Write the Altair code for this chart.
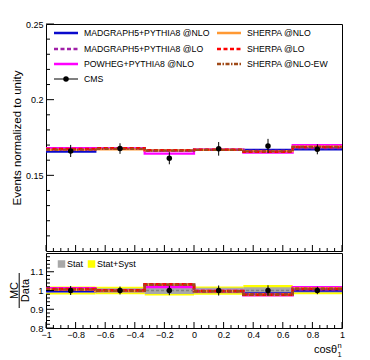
import altair as alt
import pandas as pd

# ---------------- data ----------------
bin_lo = [-1.0, -0.6667, -0.3333, 0.0, 0.3333, 0.6667]
bin_hi = [-0.6667, -0.3333, 0.0, 0.3333, 0.6667, 1.0]
bin_center = [-0.8333, -0.5, -0.1667, 0.1667, 0.5, 0.8333]

cms_val = [0.1661, 0.1677, 0.1613, 0.1675, 0.1694, 0.1672]
cms_err = [0.0040, 0.0035, 0.0040, 0.0045, 0.0047, 0.0033]

mg5_nlo = [0.1657, 0.1675, 0.1664, 0.1668, 0.1668, 0.1672]
mg5_lo = [0.1670, 0.1678, 0.1662, 0.1668, 0.1662, 0.1680]
powheg_nlo = [0.1680, 0.1678, 0.1644, 0.1670, 0.1650, 0.1700]
sherpa_nlo = [0.1668, 0.1672, 0.1665, 0.1668, 0.1660, 0.1690]
sherpa_lo = [0.1675, 0.1680, 0.1667, 0.1670, 0.1655, 0.1686]
sherpa_nlo_ew = [0.1670, 0.1675, 0.1663, 0.1668, 0.1658, 0.1688]

stat_unc = [0.013, 0.012, 0.018, 0.015, 0.018, 0.011]
tot_unc = [0.021, 0.020, 0.027, 0.022, 0.030, 0.020]

series_names = ["MADGRAPH5+PYTHIA8 @NLO", "MADGRAPH5+PYTHIA8 @LO",
                "POWHEG+PYTHIA8 @NLO", "SHERPA @NLO", "SHERPA @LO",
                "SHERPA @NLO-EW"]
series_vals = [mg5_nlo, mg5_lo, powheg_nlo, sherpa_nlo, sherpa_lo, sherpa_nlo_ew]

y_major = [0.15, 0.2, 0.25]
y_minor = [0.11, 0.12, 0.13, 0.14, 0.16, 0.17, 0.18, 0.19, 0.21, 0.22, 0.23, 0.24]
r_major = [0.8, 0.9, 1.0, 1.1]
r_minor = [0.82, 0.84, 0.86, 0.88, 0.92, 0.94, 0.96, 0.98, 1.02, 1.04, 1.06,
           1.08, 1.12, 1.14, 1.16, 1.18]
x_major = [-1.0, -0.8, -0.6, -0.4, -0.2, 0.0, 0.2, 0.4, 0.6, 0.8, 1.0]
x_minor = [-0.95, -0.9, -0.85, -0.75, -0.7, -0.65, -0.55, -0.5, -0.45, -0.35,
           -0.3, -0.25, -0.15, -0.1, -0.05, 0.05, 0.1, 0.15, 0.25, 0.3, 0.35,
           0.45, 0.5, 0.55, 0.65, 0.7, 0.75, 0.85, 0.9, 0.95]

# ---------------- styles ----------------
styles = {
    "MADGRAPH5+PYTHIA8 @NLO": dict(color="#0a0acc", dash=[1, 0]),
    "MADGRAPH5+PYTHIA8 @LO": dict(color="#a020a8", dash=[4, 2.5]),
    "POWHEG+PYTHIA8 @NLO": dict(color="#ff00ff", dash=[1, 0]),
    "SHERPA @NLO": dict(color="#ff9933", dash=[1, 0]),
    "SHERPA @LO": dict(color="#ff0000", dash=[4, 2.5]),
    "SHERPA @NLO-EW": dict(color="#a04a18", dash=[4, 1.5, 1.5, 1.5]),
}
draw_order = ["MADGRAPH5+PYTHIA8 @NLO", "POWHEG+PYTHIA8 @NLO", "SHERPA @NLO",
              "MADGRAPH5+PYTHIA8 @LO", "SHERPA @LO", "SHERPA @NLO-EW"]

W, H_TOP, H_RAT = 296, 227, 75
FONT = "Liberation Sans"

xs = alt.Scale(domain=[-1, 1], nice=False, zero=False)
ys_top = alt.Scale(domain=[0.1, 0.25], nice=False, zero=False)
ys_rat = alt.Scale(domain=[0.8, 1.2], nice=False, zero=False)

ax_top_y = alt.Axis(values=y_major, format="~g", title="Events normalized to unity",
                    ticks=False, domain=False, grid=False, labelPadding=3,
                    labelOverlap=False, labelFlush=False,
                    labelFontSize=9, titleFontSize=11.5, titleFontWeight="normal",
                    titleAngle=270, titleX=-26, titleY=H_TOP / 2,
                    titleBaseline="alphabetic", titleAlign="center")
ax_rat_x = alt.Axis(values=x_major, format="~g", ticks=False, domain=False, grid=False,
                    labelOverlap=False, labelFlush=False, labelBound=False,
                    labelFontSize=9, labelPadding=2, title=None)
ax_rat_y = alt.Axis(values=r_major, format="~g", ticks=False, domain=False, grid=False,
                    labelOverlap=False, labelFlush=False, labelBound=False,
                    labelFontSize=9.5, labelPadding=3, title=None)


def X_top(f):
    return alt.X(f, type="quantitative", scale=xs, axis=None)


def Y_top(f):
    return alt.Y(f, type="quantitative", scale=ys_top, axis=ax_top_y)


def X_rat(f):
    return alt.X(f, type="quantitative", scale=xs, axis=ax_rat_x)


def Y_rat(f):
    return alt.Y(f, type="quantitative", scale=ys_rat, axis=ax_rat_y)


def step_frame(vals):
    return pd.DataFrame({"x": bin_lo + [bin_hi[-1]], "y": list(vals) + [vals[-1]]})


cms = pd.DataFrame({"x": bin_center, "y": cms_val,
                    "lo": [v - e for v, e in zip(cms_val, cms_err)],
                    "hi": [v + e for v, e in zip(cms_val, cms_err)]})
cms_r = pd.DataFrame({"x": bin_center, "y": [1.0] * 6,
                      "lo": [1 - e / v for v, e in zip(cms_val, cms_err)],
                      "hi": [1 + e / v for v, e in zip(cms_val, cms_err)]})
bands = pd.DataFrame({"x": bin_lo, "x2": bin_hi,
                      "slo": [1 - s for s in stat_unc], "shi": [1 + s for s in stat_unc],
                      "tlo": [1 - s for s in tot_unc], "thi": [1 + s for s in tot_unc]})

# ---------------- top panel ----------------
top_layers = []
for name in draw_order:
    st = styles[name]
    vals = series_vals[series_names.index(name)]
    top_layers.append(
        alt.Chart(step_frame(vals)).mark_line(interpolate="step-after", color=st["color"],
                                              strokeDash=st["dash"], strokeWidth=2.2)
        .encode(x=X_top("x"), y=Y_top("y"))
    )

top_layers.append(alt.Chart(cms).mark_rule(color="black", strokeWidth=1).encode(
    x=X_top("x"), y=Y_top("lo"), y2="hi:Q"))
top_layers.append(alt.Chart(cms).mark_circle(color="black", opacity=1, size=30).encode(
    x=X_top("x"), y=Y_top("y")))

# inside ticks
top_layers.append(alt.Chart(pd.DataFrame({"v": y_major})).mark_rule(color="black").encode(
    y=Y_top("v"), x=alt.value(0), x2=alt.value(8)))
top_layers.append(alt.Chart(pd.DataFrame({"v": y_minor})).mark_rule(color="black").encode(
    y=Y_top("v"), x=alt.value(0), x2=alt.value(4)))
top_layers.append(alt.Chart(pd.DataFrame({"v": x_major})).mark_rule(color="black").encode(
    x=X_top("v"), y=alt.value(H_TOP), y2=alt.value(H_TOP - 6)))
top_layers.append(alt.Chart(pd.DataFrame({"v": x_minor})).mark_rule(color="black").encode(
    x=X_top("v"), y=alt.value(H_TOP), y2=alt.value(H_TOP - 3)))

# legend (top panel)
legend_layout = [
    ("MADGRAPH5+PYTHIA8 @NLO", 8, 9), ("SHERPA @NLO", 171, 9),
    ("MADGRAPH5+PYTHIA8 @LO", 8, 25), ("SHERPA @LO", 171, 25),
    ("POWHEG+PYTHIA8 @NLO", 8, 40), ("SHERPA @NLO-EW", 171, 40),
]
one = pd.DataFrame({"a": [0]})
for name, lx, ly in legend_layout:
    st = styles[name]
    top_layers.append(alt.Chart(one).mark_rule(color=st["color"], strokeDash=st["dash"],
                                               strokeWidth=2.5).encode(
        x=alt.value(lx), x2=alt.value(lx + 24), y=alt.value(ly)))
top_layers.append(alt.Chart(one).mark_rule(color="black", strokeWidth=1).encode(
    x=alt.value(8), x2=alt.value(32), y=alt.value(55)))
top_layers.append(alt.Chart(one).mark_circle(color="black", opacity=1, size=30).encode(
    x=alt.value(20), y=alt.value(55)))
leg_text = pd.DataFrame({
    "t": [n for n, _, _ in legend_layout] + ["CMS"],
    "px": [lx + 30 for _, lx, _ in legend_layout] + [38],
    "py": [ly for _, _, ly in legend_layout] + [55],
})
top_layers.append(alt.Chart(leg_text).mark_text(align="left", baseline="middle", fontSize=8.7,
                                                font=FONT, color="black").encode(
    x=alt.X("px:Q", scale=None), y=alt.Y("py:Q", scale=None), text="t:N"))

top = alt.layer(*top_layers).properties(width=W, height=H_TOP)

# ---------------- ratio panel ----------------
rat_layers = []
rat_layers.append(alt.Chart(bands).mark_rect(color="#ffff00").encode(
    x=X_rat("x"), x2="x2:Q", y=Y_rat("tlo"), y2="thi:Q"))
rat_layers.append(alt.Chart(bands).mark_rect(color="#a8a8a8").encode(
    x=X_rat("x"), x2="x2:Q", y=Y_rat("slo"), y2="shi:Q"))
rat_layers.append(alt.Chart(pd.DataFrame({"v": [1.0]})).mark_rule(
    color="#808080", strokeDash=[3, 2], strokeWidth=1.5).encode(
    y=Y_rat("v"), x=alt.value(0), x2=alt.value(W)))
for name in draw_order:
    st = styles[name]
    vals = series_vals[series_names.index(name)]
    ratio = [m / d for m, d in zip(vals, cms_val)]
    rat_layers.append(
        alt.Chart(step_frame(ratio)).mark_line(interpolate="step-after", color=st["color"],
                                               strokeDash=st["dash"], strokeWidth=2.5)
        .encode(x=X_rat("x"), y=Y_rat("y"))
    )
rat_layers.append(alt.Chart(cms_r).mark_rule(color="black", strokeWidth=1).encode(
    x=X_rat("x"), y=Y_rat("lo"), y2="hi:Q"))
rat_layers.append(alt.Chart(cms_r).mark_circle(color="black", opacity=1, size=30).encode(
    x=X_rat("x"), y=Y_rat("y")))

rat_layers.append(alt.Chart(pd.DataFrame({"v": r_major})).mark_rule(color="black").encode(
    y=Y_rat("v"), x=alt.value(0), x2=alt.value(8)))
rat_layers.append(alt.Chart(pd.DataFrame({"v": r_minor})).mark_rule(color="black").encode(
    y=Y_rat("v"), x=alt.value(0), x2=alt.value(4)))
rat_layers.append(alt.Chart(pd.DataFrame({"v": x_major})).mark_rule(color="black").encode(
    x=X_rat("v"), y=alt.value(H_RAT), y2=alt.value(H_RAT - 6)))
rat_layers.append(alt.Chart(pd.DataFrame({"v": x_minor})).mark_rule(color="black").encode(
    x=X_rat("v"), y=alt.value(H_RAT), y2=alt.value(H_RAT - 3)))

# ratio legend
rat_layers.append(alt.Chart(one).mark_square(color="#a8a8a8", opacity=1, size=56).encode(
    x=alt.value(15.5), y=alt.value(11)))
rat_layers.append(alt.Chart(one).mark_square(color="#ffff00", opacity=1, size=56).encode(
    x=alt.value(45.5), y=alt.value(11)))
rat_leg = pd.DataFrame({"t": ["Stat", "Stat+Syst"], "px": [21, 51], "py": [11, 11]})
rat_layers.append(alt.Chart(rat_leg).mark_text(align="left", baseline="middle", fontSize=9,
                                               font=FONT, color="black").encode(
    x=alt.X("px:Q", scale=None), y=alt.Y("py:Q", scale=None), text="t:N"))

# ratio axis title MC / Data
rat_layers.append(alt.Chart(one).mark_text(text="MC", angle=270, align="center",
                                           baseline="alphabetic", fontSize=11, font=FONT,
                                           color="black").encode(
    x=alt.value(-28), y=alt.value(H_RAT / 2)))
rat_layers.append(alt.Chart(one).mark_text(text="Data", angle=270, align="center",
                                           baseline="alphabetic", fontSize=11, font=FONT,
                                           color="black").encode(
    x=alt.value(-17.5), y=alt.value(H_RAT / 2)))
rat_layers.append(alt.Chart(one).mark_rule(color="black", strokeWidth=1).encode(
    x=alt.value(-26.8), y=alt.value(20), y2=alt.value(55)))

# x title cos theta_1^n
rat_layers.append(alt.Chart(one).mark_text(text="cosθ", align="left", baseline="alphabetic",
                                           fontSize=11, font=FONT, color="black").encode(
    x=alt.value(268), y=alt.value(100)))
rat_layers.append(alt.Chart(one).mark_text(text="n", align="left", baseline="alphabetic",
                                           fontSize=7.5, font=FONT, color="black").encode(
    x=alt.value(291.5), y=alt.value(94.5)))
rat_layers.append(alt.Chart(one).mark_text(text="1", align="left", baseline="alphabetic",
                                           fontSize=7.5, font=FONT, color="black").encode(
    x=alt.value(291.5), y=alt.value(104)))

ratio_panel = alt.layer(*rat_layers).properties(width=W, height=H_RAT)

chart = (
    alt.vconcat(top, ratio_panel, spacing=0)
    .properties(padding={"left": 0, "top": 11, "right": 5, "bottom": 0})
    .configure_view(stroke="black", strokeWidth=1)
    .configure_axis(labelFont=FONT, titleFont=FONT, labelColor="black", titleColor="black",
                    labelOverlap=False)
    .configure_text(font=FONT)
)

chart.save("out.html", embed_options={"renderer": "svg", "actions": False})
